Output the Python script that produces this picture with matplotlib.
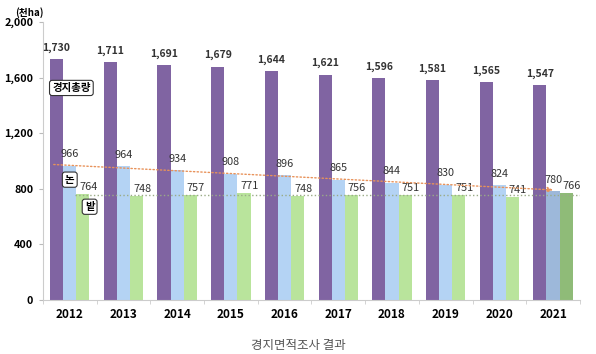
import matplotlib.pyplot as plt
import numpy as np

plt.rcParams['font.family'] = ['Noto Sans CJK KR', 'DejaVu Sans']

years = ['2012', '2013', '2014', '2015', '2016', '2017', '2018', '2019', '2020', '2021']
total = [1730, 1711, 1691, 1679, 1644, 1621, 1596, 1581, 1565, 1547]
paddy = [966, 964, 934, 908, 896, 865, 844, 830, 824, 780]
field = [764, 748, 757, 771, 748, 756, 751, 751, 741, 766]

x = np.arange(len(years))
w = 0.245

fig = plt.figure(figsize=(5.96, 3.54), dpi=100)
ax = fig.add_axes([0.072, 0.153, 0.901, 0.785])

blue_c = ['#b4d3f4'] * 9 + ['#9db8da']
green_c = ['#b9e49c'] * 9 + ['#8fbb78']
ax.bar(x - w, total, w, color='#8064a2')
ax.bar(x, paddy, w, color=blue_c)
ax.bar(x + w, field, w, color=green_c)

for i in range(len(years)):
    ax.text(x[i] - w, total[i] + 45, f'{total[i]:,}', ha='center', va='bottom',
            fontsize=7.5, fontweight='bold', color='#333333')
    ax.text(x[i], paddy[i] + 45, f'{paddy[i]:,}', ha='center', va='bottom',
            fontsize=7.8, color='#333333')
    ax.text(x[i] + w + 0.1, field[i] + 15, f'{field[i]:,}', ha='center', va='bottom',
            fontsize=7.8, color='#333333')

# trend lines
ax.annotate('', xy=(9.05, 790), xytext=(-0.35, 975),
            arrowprops=dict(arrowstyle='-|>', color='#e8925a', lw=1, ls=':',
                            mutation_scale=8))
ax.plot([0.1, 9.5], [757, 757], ls=':', color='#9aab86', lw=1)

box = dict(boxstyle='round,pad=0.25', fc='white', ec='#333333', lw=0.8)
ax.text(0.03, 1525, '경지총량', ha='center', va='center', fontsize=7.5,
        fontweight='bold', bbox=box)
ax.text(0.0, 865, '논', ha='center', va='center', fontsize=7.5,
        fontweight='bold', bbox=box)
ax.text(0.37, 670, '밭', ha='center', va='center', fontsize=7.5,
        fontweight='bold', bbox=box)

ax.set_xlim(-0.5, 9.5)
ax.set_ylim(0, 2000)
ax.set_yticks([0, 400, 800, 1200, 1600, 2000])
ax.set_yticklabels(['0', '400', '800', '1,200', '1,600', '2,000'],
                   fontsize=7.8, fontweight='bold')
ax.set_xticks(x)
ax.set_xticklabels(years, fontsize=8.5, fontweight='bold')
ax.set_xticks(np.arange(-0.5, 10, 1), minor=True)
ax.tick_params(axis='x', which='major', length=0, pad=6)
ax.tick_params(axis='x', which='minor', length=3, color='#cccccc')
ax.tick_params(axis='y', length=3, color='#bbbbbb', pad=4)
for s in ['top', 'right']:
    ax.spines[s].set_visible(False)
ax.spines['left'].set_color('#cccccc')
ax.spines['bottom'].set_color('#cccccc')

fig.text(0.025, 0.965, '(천ha)', fontsize=7, fontweight='bold', ha='left', va='center')
fig.text(0.5, 0.025, '경지면적조사 결과', fontsize=9, color='#555555', ha='center', va='center')

fig.savefig('out.png', dpi=100)
